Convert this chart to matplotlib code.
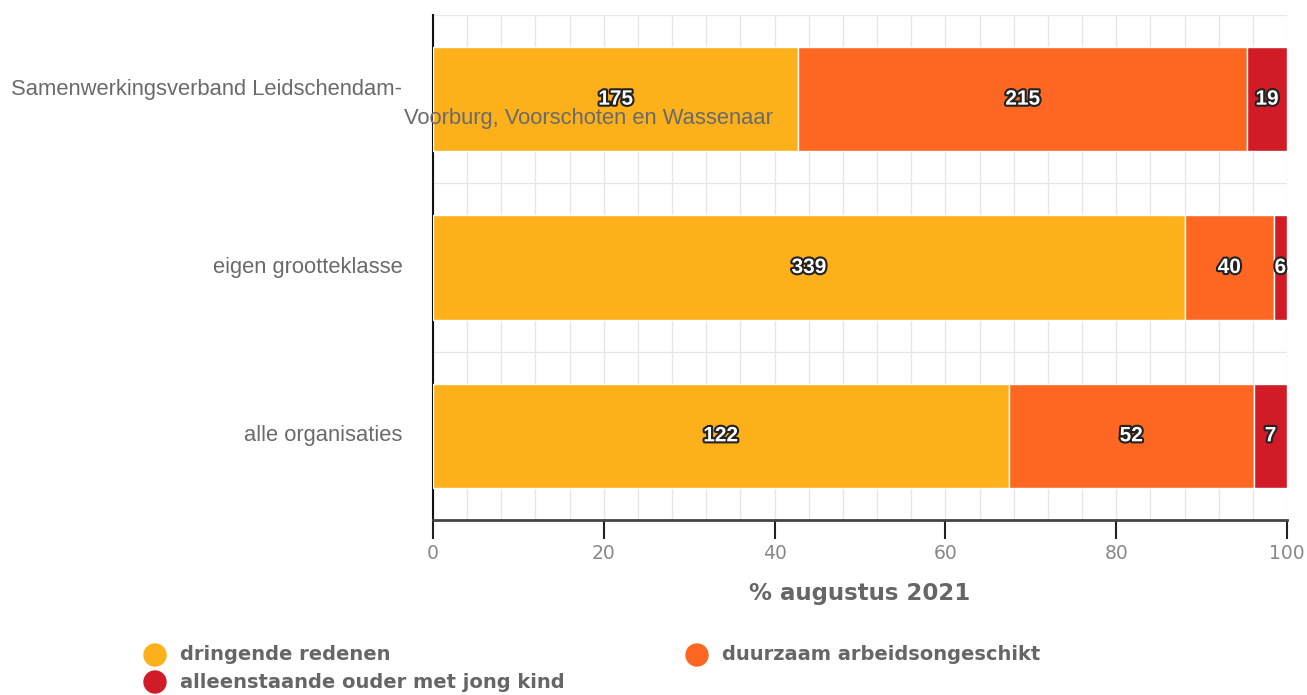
import matplotlib
matplotlib.use("Agg")
import matplotlib.pyplot as plt
import matplotlib.patheffects as pe
from matplotlib.ticker import MultipleLocator
import numpy as np

categories = ["Samenwerkingsverband Leidschendam-\nVoorburg, Voorschoten en Wassenaar",
              "eigen grootteklasse", "alle organisaties"]
series_names = ["dringende redenen", "duurzaam arbeidsongeschikt", "alleenstaande ouder met jong kind"]
dringende = [175, 339, 122]
duurzaam = [215, 40, 52]
alleenstaande = [19, 6, 7]
xticks = [0, 20, 40, 60, 80, 100]
xlabel = "% augustus 2021"
colors = ["#FCB11B", "#FD6722", "#D11B26"]

plt.rcParams['font.family'] = ['Liberation Sans', 'DejaVu Sans']

fig = plt.figure(figsize=(13.07, 6.95), dpi=100)
ax = fig.add_axes([433/1307, 1-520/695, (1287-433)/1307, (520-15)/695])

data = np.array([dringende, duurzaam, alleenstaande], dtype=float)
totals = data.sum(axis=0)
pct = data / totals * 100
ypos = np.arange(len(categories))[::-1]

left = np.zeros(len(categories))
for i in range(3):
    ax.barh(ypos, pct[i], left=left, height=0.62, color=colors[i],
            edgecolor="white", linewidth=1, zorder=3)
    for j in range(len(categories)):
        ax.text(left[j] + pct[i][j]/2, ypos[j], f"{int(data[i][j])}",
                ha="center", va="center", color="white", fontsize=15,
                fontweight="bold", zorder=5,
                path_effects=[pe.withStroke(linewidth=3, foreground="#222222")])
    left += pct[i]

ax.set_xlim(0, 100)
ax.set_ylim(-0.5, 2.5)
ax.xaxis.set_minor_locator(MultipleLocator(4))
ax.set_xticks(xticks)
ax.set_xticklabels([str(t) for t in xticks], color="#888888", fontsize=13.5,
                   family=["DejaVu Sans"])
ax.grid(axis="x", which="both", color="#e6e6e6", linewidth=0.9, zorder=0)
for yb in [0.5, 1.5, 2.5]:
    ax.axhline(yb, color="#e6e6e6", linewidth=0.9, zorder=0)
ax.tick_params(axis="x", which="major", length=14, width=1.5, color="#222222", pad=3)
ax.tick_params(axis="x", which="minor", length=0)
ax.set_yticks([])
for s in ["top", "right"]:
    ax.spines[s].set_visible(False)
ax.spines["left"].set_color("#111111")
ax.spines["left"].set_linewidth(1.5)
ax.spines["bottom"].set_color("#444444")
ax.spines["bottom"].set_linewidth(2)

ax.set_xlabel(xlabel, fontsize=16.5, fontweight="bold", color="#666666",
              family=["DejaVu Sans"], labelpad=14)

# category labels
fig_w, fig_h = 1307, 695
def fx(px): return px / fig_w
def fy(py): return 1 - py / fig_h
lab_color = "#6a6a6a"
first1, first2 = categories[0].split("\n")
trans = ax.get_yaxis_transform()
ax.text(-0.036, ypos[0] + 0.06, first1, transform=trans, ha="right", va="center",
        fontsize=15.8, color=lab_color, zorder=6, clip_on=False)
ax.text(-0.034, ypos[0] - 0.113, first2, transform=trans, ha="left", va="center",
        fontsize=15.8, color=lab_color, zorder=6, clip_on=False)
for j in range(1, len(categories)):
    ax.text(-0.036, ypos[j], categories[j], transform=trans, ha="right", va="center",
            fontsize=15.8, color=lab_color, clip_on=False)

# legend
leg_pos = [(155, 655), (697, 655), (155, 682)]
for (x, y), name, c in zip(leg_pos, series_names, colors):
    fig.patches.append(matplotlib.patches.Ellipse((fx(x), fy(y)), 22/fig_w, 22/fig_h,
                                                  transform=fig.transFigure, color=c))
    fig.text(fx(x + 25), fy(y), name, ha="left", va="center", fontsize=14,
             fontweight="bold", color="#666666", family=["DejaVu Sans"])

fig.savefig("out.png", dpi=100, facecolor="white")
